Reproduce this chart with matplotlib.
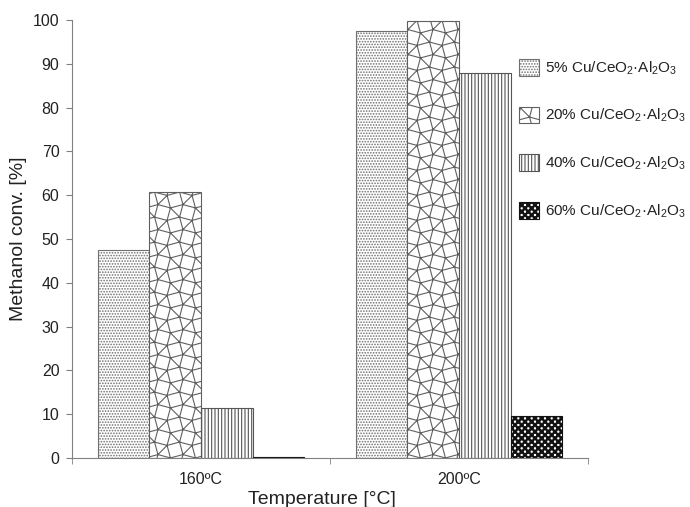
import warnings
import numpy as np
import matplotlib
matplotlib.use("Agg")
import matplotlib.pyplot as plt
from matplotlib import hatch as mhatch
from matplotlib.path import Path

warnings.filterwarnings("ignore")

# Data
temps = ["160ºC", "200ºC"]
labels = [
    "5% Cu/CeO$_2$·Al$_2$O$_3$",
    "20% Cu/CeO$_2$·Al$_2$O$_3$",
    "40% Cu/CeO$_2$·Al$_2$O$_3$",
    "60% Cu/CeO$_2$·Al$_2$O$_3$",
]
conv_5 = [47.5, 97.6]
conv_20 = [60.8, 99.7]
conv_40 = [11.4, 87.9]
conv_60 = [0.3, 9.7]


# Extra hatches: 's' = triangle/square mesh, 'k' = checkerboard
def mesh_segments(n):
    L = np.sqrt(2 + np.sqrt(3))
    pts = []
    for i in range(-1, n + 2):
        for j in range(-1, n + 2):
            for cx, cy, rot in [(i * L, j * L, 15), ((i + .5) * L, (j + .5) * L, -15)]:
                for k in range(4):
                    a = np.radians(45 + rot + 90 * k)
                    pts.append((cx + np.cos(a) / np.sqrt(2), cy + np.sin(a) / np.sqrt(2)))
    pts = np.unique(np.round(np.array(pts), 6), axis=0) / (n * L)
    e = 1 / (n * L)
    segs = []
    for a in range(len(pts)):
        for b in range(a + 1, len(pts)):
            p, q = pts[a], pts[b]
            if abs(np.hypot(*(p - q)) - e) < 1e-4:
                if max(p[0], q[0]) >= 0 and min(p[0], q[0]) <= 1 and \
                   max(p[1], q[1]) >= 0 and min(p[1], q[1]) <= 1:
                    segs.append((p, q))
    return segs


class MeshHatch(mhatch.HatchPatternBase):
    def __init__(self, hatch, density):
        n = hatch.count("s")
        self.segs = mesh_segments(n) if n else []
        self.num_vertices = 2 * len(self.segs)

    def set_vertices_and_codes(self, vertices, codes):
        for i, (p, q) in enumerate(self.segs):
            vertices[2 * i] = p
            vertices[2 * i + 1] = q
            codes[2 * i] = Path.MOVETO
            codes[2 * i + 1] = Path.LINETO


class CheckerHatch(mhatch.HatchPatternBase):
    def __init__(self, hatch, density):
        self.m = 6 * hatch.count("k")
        self.num_vertices = 5 * (self.m * self.m // 2)

    def set_vertices_and_codes(self, vertices, codes):
        s = 1.0 / self.m
        c = 0
        for i in range(self.m):
            for j in range(self.m):
                if (i + j) % 2:
                    continue
                vertices[c:c + 5] = [(i * s, j * s), ((i + 1) * s, j * s),
                                     ((i + 1) * s, (j + 1) * s), (i * s, (j + 1) * s),
                                     (i * s, j * s)]
                codes[c:c + 5] = [Path.MOVETO, Path.LINETO, Path.LINETO,
                                  Path.LINETO, Path.CLOSEPOLY]
                c += 5


mhatch._hatch_types.append(MeshHatch)
mhatch._hatch_types.append(CheckerHatch)

plt.rcParams["font.family"] = ["Liberation Sans", "DejaVu Sans"]
plt.rcParams["mathtext.fontset"] = "custom"
plt.rcParams["mathtext.rm"] = "Liberation Sans"
plt.rcParams["mathtext.it"] = "Liberation Sans:italic"
plt.rcParams["mathtext.default"] = "regular"
plt.rcParams["hatch.linewidth"] = 0.8

text_col = "#222222"
axis_col = "#808080"

fig = plt.figure(figsize=(6.9, 5.07), dpi=100)
ax = fig.add_axes([72 / 690, 49 / 507, 516 / 690, 438 / 507])

x = np.arange(len(temps))
width = 0.2
styles = [
    (conv_5, "......", "#707070"),
    (conv_20, "ssss", "#606060"),
    (conv_40, "|||||", "#555555"),
    (conv_60, "kkkkk", "#111111"),
]
for i, (vals, h, col) in enumerate(styles):
    ax.bar(x + (i - 1.5) * width, vals, width, color="white", edgecolor=col,
           hatch=h, linewidth=0.8, label=labels[i])

ax.set_xlim(-0.5, 1.5)
ax.set_ylim(0, 100)
ax.set_yticks(range(0, 101, 10))
ax.set_xticks(x)
ax.set_xticklabels(temps)
ax.set_xticks([-0.5, 0.5, 1.5], minor=True)
ax.tick_params(axis="x", which="major", length=0, pad=10, labelsize=11.5, labelcolor=text_col)
ax.tick_params(axis="x", which="minor", length=4, color=axis_col)
ax.tick_params(axis="y", length=4, color=axis_col, labelsize=11.5, labelcolor=text_col, pad=5)

for side in ["top", "right"]:
    ax.spines[side].set_visible(False)
for side in ["left", "bottom"]:
    ax.spines[side].set_color(axis_col)

ax.set_ylabel("Methanol conv. [%]", fontsize=14, color=text_col)
ax.set_xlabel("Temperature [°C]", fontsize=14, color=text_col, labelpad=2)
ax.xaxis.set_label_coords(0.485, -0.075)

ax.legend(loc="upper left", bbox_to_anchor=(519 / 690, 1 - 59 / 507),
          bbox_transform=fig.transFigure, frameon=False, fontsize=11,
          handlelength=1.3, handleheight=1.3, handletextpad=0.4,
          labelspacing=1.95, borderpad=0, borderaxespad=0, labelcolor=text_col)

fig.savefig("out.png", dpi=100)
